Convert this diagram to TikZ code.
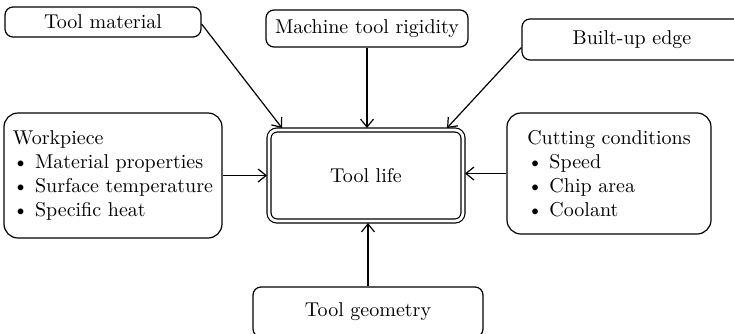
\documentclass[tikz,border=0pt]{standalone}
\usepackage{tikz}
\usetikzlibrary{arrows.meta, positioning}

\tikzset{
  factor/.style={draw, line width=0.6pt, rounded corners=4pt,
                 font=\fontsize{10}{12}\selectfont, inner sep=2pt},
  group/.style={factor, rounded corners=7pt, align=left},
  arr/.style={line width=0.6pt, -{Straight Barb[length=4pt,width=6.5pt]}}
}

\begin{document}
\begin{tikzpicture}[x=0.5pt, y=-0.5pt]
  \useasboundingbox (0,0) rectangle (734,333);
  % Influences on tool life
  \node[factor, double, double distance=1.4pt, outer sep=1pt,
        minimum width=97pt, minimum height=45.5pt] (life) at (366,175.5) {Tool life};
  \node[factor, minimum width=98pt, minimum height=15pt] (mat) at (103,22) {Tool material};
  \node[factor, minimum width=101pt, minimum height=18.5pt] (rig) at (367,28.5) {Machine tool rigidity};
  \node[factor, minimum width=110pt, minimum height=20.5pt] (edge) at (632,39.5) {Built-up edge};
  \node[factor, minimum width=115pt, minimum height=25pt] (geom) at (368,312) {Tool geometry};
  \node[group, minimum width=109pt, minimum height=62.5pt] (work) at (113,175.5)
    {Workpiece\\ \textbullet\ Material properties\\
     \textbullet\ Surface temperature\\ \textbullet\ Specific heat};
  \node[group, minimum width=102pt, minimum height=60.5pt] (cond) at (609,173.5)
    {Cutting conditions\\ \textbullet\ Speed\\
     \textbullet\ Chip area\\ \textbullet\ Coolant};

  \draw[arr] ([yshift=-1pt]mat.east) -- ([xshift=7.5pt]life.north west);
  \draw[arr] (rig.south) -- (rig.south |- life.north);
  \draw[arr] ([yshift=-4pt]edge.west) -- ([xshift=-9pt]life.north east);
  \draw[arr] (work.east) -- (life.west);
  \draw[arr] (cond.west) -- (cond.west -| life.east);
  \draw[arr] (geom.north) -- (geom.north |- life.south);
\end{tikzpicture}
\end{document}
